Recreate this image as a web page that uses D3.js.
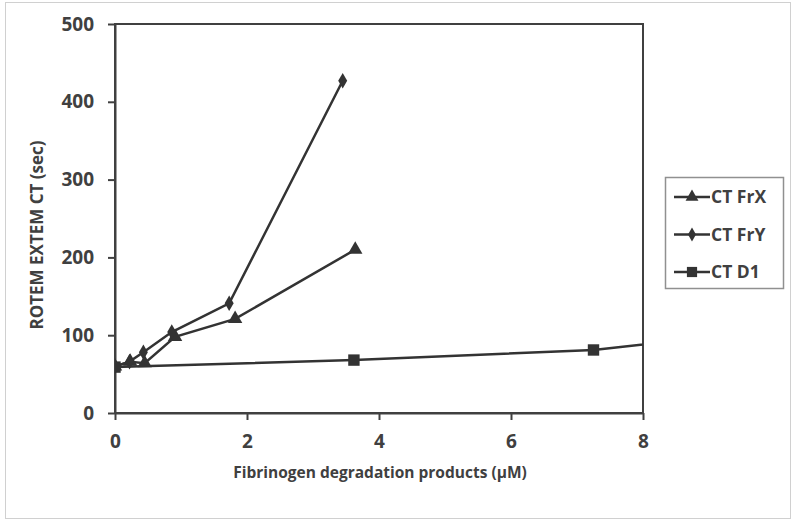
<!DOCTYPE html>
<html>
<head>
<meta charset="utf-8">
<script src="https://cdn.jsdelivr.net/npm/d3@7"></script>
<style>
  body { margin: 0; background: #fff; }
  text { font-family: "Open Sans", sans-serif; font-weight: bold; fill: #404040; }
</style>
</head>
<body>
<div id="mainDiv"></div>
<script>
// data
var seriesNames = ["CT FrX", "CT FrY", "CT D1"];
var frxConc = [0, 0.23, 0.45, 0.91, 1.82, 3.64];
var frxCT   = [60, 66, 64, 98, 121, 210];
var fryConc = [0, 0.22, 0.43, 0.86, 1.73, 3.45];
var fryCT   = [60, 66, 78, 104, 141, 427];
var d1Conc  = [0, 3.62, 7.25, 14.5];
var d1CT    = [59, 68, 81, 148];
var xTicks = [0, 2, 4, 6, 8];
var yTicks = [0, 100, 200, 300, 400, 500];

var lineColor = "#333333";
var axisColor = "#404040";

var svg = d3.select("#mainDiv").append("svg")
    .attr("width", 792).attr("height", 521);

// outer frame
svg.append("rect").attr("x", 5.5).attr("y", 2.5).attr("width", 785).attr("height", 516)
    .attr("fill", "none").attr("stroke", "#d0d0d0").attr("stroke-width", 1);

var plotLeft = 115, plotRight = 643, plotTop = 24, plotBottom = 413;

var x = d3.scaleLinear().domain([0, 8]).range([plotLeft, plotRight]);
var y = d3.scaleLinear().domain([0, 500]).range([plotBottom, plotTop]);

// plot area box
svg.append("rect").attr("x", plotLeft).attr("y", plotTop)
    .attr("width", plotRight - plotLeft).attr("height", plotBottom - plotTop)
    .attr("fill", "none").attr("stroke", axisColor).attr("stroke-width", 2);

var xAxis = svg.append("g").attr("transform", "translate(0," + plotBottom + ")")
    .call(d3.axisBottom(x).tickValues(xTicks).tickSize(7).tickSizeOuter(0).tickPadding(15));
var yAxis = svg.append("g").attr("transform", "translate(" + plotLeft + ",0)")
    .call(d3.axisLeft(y).tickValues(yTicks).tickSize(7).tickSizeOuter(0).tickPadding(14));

[xAxis, yAxis].forEach(function (g) {
    g.select(".domain").attr("stroke", axisColor).attr("stroke-width", 2);
    g.selectAll(".tick line").attr("stroke", axisColor).attr("stroke-width", 2);
    g.selectAll(".tick text").style("font-size", "19px").attr("fill", axisColor)
        .style("font-family", "'Open Sans', sans-serif").style("font-weight", "bold");
});

svg.append("text").attr("x", 380).attr("y", 478)
    .attr("text-anchor", "middle").style("font-size", "15.5px")
    .text("Fibrinogen degradation products (\u00b5M)");

svg.append("text").attr("transform", "translate(43," + 235 + ") rotate(-90)")
    .attr("text-anchor", "middle").style("font-size", "17px")
    .text("ROTEM EXTEM CT (sec)");

// clip for series
svg.append("clipPath").attr("id", "plotClip").append("rect")
    .attr("x", plotLeft).attr("y", plotTop - 10)
    .attr("width", plotRight - plotLeft).attr("height", plotBottom - plotTop + 20);

var series = [
    { name: seriesNames[0], xs: frxConc, ys: frxCT, symbol: d3.symbolTriangle, size: 90 },
    { name: seriesNames[1], xs: fryConc, ys: fryCT, symbol: d3.symbolDiamond, size: 70 },
    { name: seriesNames[2], xs: d1Conc, ys: d1CT, symbol: d3.symbolSquare, size: 130 }
];

var line = d3.line().x(function (d) { return x(d[0]); }).y(function (d) { return y(d[1]); });
var plotG = svg.append("g").attr("clip-path", "url(#plotClip)");

series.forEach(function (s) {
    var pts = s.xs.map(function (v, i) { return [v, s.ys[i]]; });
    plotG.append("path").datum(pts).attr("d", line)
        .attr("fill", "none").attr("stroke", lineColor).attr("stroke-width", 2.5);
    plotG.selectAll(null).data(pts).enter().append("path")
        .attr("transform", function (d) { return "translate(" + x(d[0]) + "," + y(d[1]) + ")"; })
        .attr("d", d3.symbol().type(s.symbol).size(s.size))
        .attr("fill", lineColor);
});

// legend
var legend = svg.append("g");
legend.append("rect").attr("x", 665.5).attr("y", 177.5).attr("width", 118).attr("height", 111)
    .attr("fill", "#fff").attr("stroke", "#909090").attr("stroke-width", 1.5);

series.forEach(function (s, i) {
    var ly = 197 + i * 37.5;
    legend.append("line").attr("x1", 674).attr("x2", 710).attr("y1", ly).attr("y2", ly)
        .attr("stroke", lineColor).attr("stroke-width", 2.5);
    legend.append("path").attr("transform", "translate(692," + ly + ")")
        .attr("d", d3.symbol().type(s.symbol).size(s.size * 0.8)).attr("fill", lineColor);
    legend.append("text").attr("x", 711).attr("y", ly).attr("dy", "0.35em")
        .style("font-size", "17.5px").text(s.name);
});
</script>
</body>
</html>
